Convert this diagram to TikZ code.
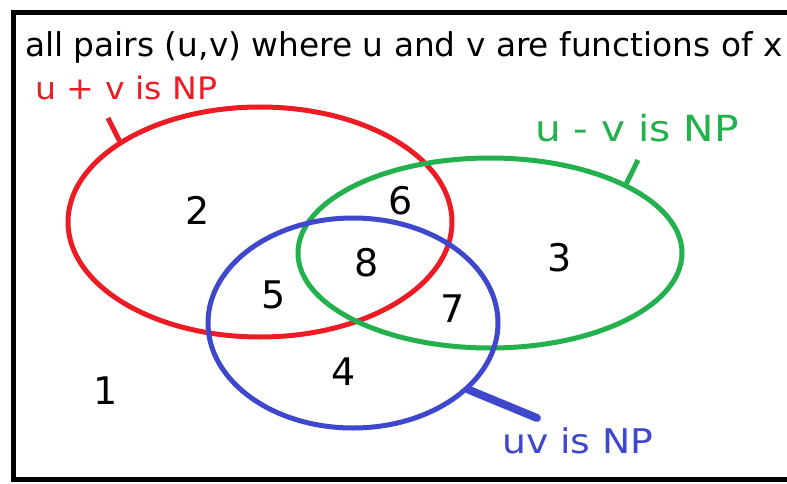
\documentclass[tikz,border=0pt]{standalone}
\usepackage{fontspec}
\setmainfont{DejaVu Sans}
\usetikzlibrary{shapes.geometric}
\definecolor{pred}{RGB}{237,28,36}
\definecolor{pgreen}{RGB}{34,177,76}
\definecolor{pblue}{RGB}{63,72,204}
\begin{document}
\begin{tikzpicture}[x=1pt,y=-1pt,
  set/.style={ellipse,draw,line width=5pt,inner sep=0pt},
  lbl/.style={inner sep=0pt,anchor=base west},
  num/.style={inner sep=0pt,font=\fontsize{38}{40}\selectfont}]
\useasboundingbox (0,0) rectangle (787,484);
\fill[white] (0,0) rectangle (787,484);
% frame (open on the right)
\draw[line width=5pt] (787,12.5) -- (13,12.5) -- (13,479.5) -- (787,479.5);
% title
\node[lbl,font=\fontsize{32.8}{36}\selectfont] (title) at (25,57) {all pairs (u,v) where u and v are functions of x};
% sets
\node[set,draw=pred,minimum width=384pt,minimum height=230pt] (red) at (260,222) {};
\node[set,draw=pgreen,minimum width=384pt,minimum height=190pt] (green) at (490,253) {};
\node[set,draw=pblue,minimum width=290pt,minimum height=210pt] (blue) at (353,323) {};
% labels
\node[lbl,text=pred,font=\fontsize{31}{34}\selectfont] (rl) at (35,100) {\scalebox{1.07}[1]{u + v is NP}};
\node[lbl,text=pgreen,font=\fontsize{36}{40}\selectfont] (gl) at (535,142) {\scalebox{1.13}[1]{u - v is NP}};
\node[lbl,text=pblue,font=\fontsize{34}{38}\selectfont] (bl) at (502,453) {\scalebox{1.11}[1]{uv is NP}};
% ticks
\coordinate (rt) at (108,118);
\coordinate (gt) at (638,160);
\coordinate (bt) at (537,418);
\draw[pred,line width=5pt] (red.150) -- (rt);
\draw[pgreen,line width=5pt] (green.27) -- (gt);
\draw[pblue,line width=8pt,line cap=round] (blue.-30) -- (bt);
% region numbers
\node[num] (n1) at (106,391) {1};
\node[num] (n2) at (198,210) {2};
\node[num] (n3) at (560,258) {3};
\node[num] (n4) at (344,372) {4};
\node[num] (n5) at (274,295) {5};
\node[num] (n6) at (401,201) {6};
\node[num] (n7) at (453,309) {7};
\node[num] (n8) at (367,263) {8};
\end{tikzpicture}
\end{document}
